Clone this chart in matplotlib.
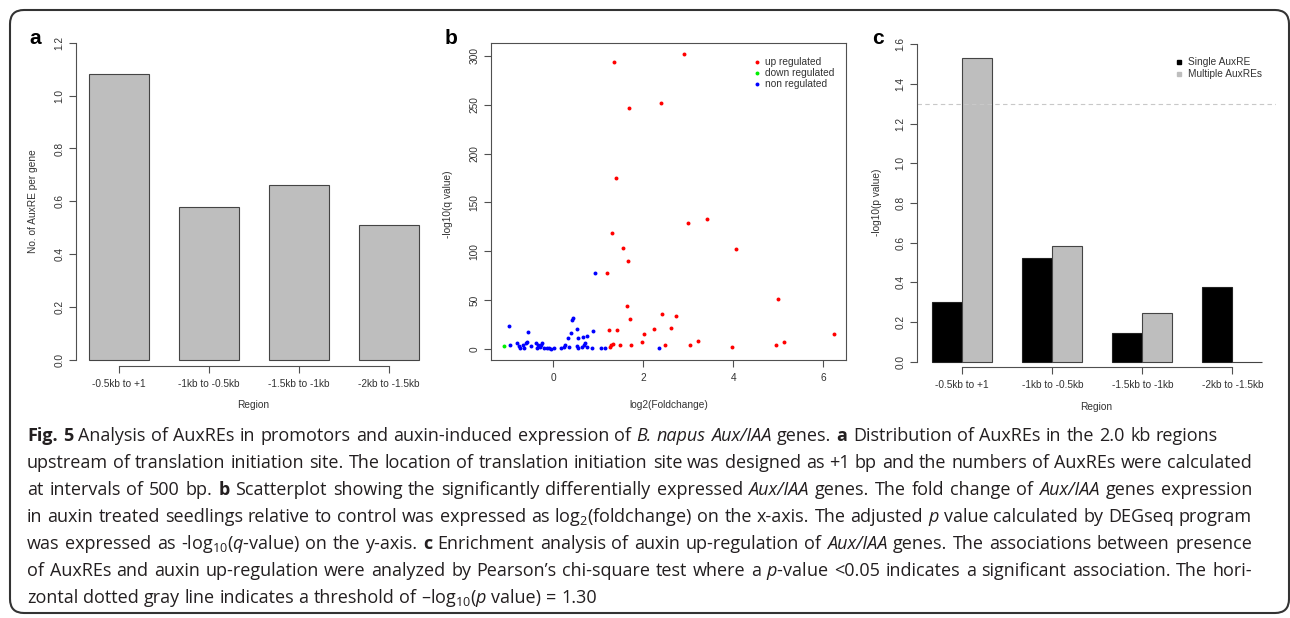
import numpy as np
import matplotlib
matplotlib.use("Agg")
import matplotlib.pyplot as plt
from matplotlib.patches import FancyBboxPatch
from matplotlib.lines import Line2D
from matplotlib.transforms import IdentityTransform

# ---- panel a: AuxRE count per gene
regions = ["-0.5kb to +1", "-1kb to -0.5kb", "-1.5kb to -1kb", "-2kb to -1.5kb"]
auxre_per_gene = [1.08, 0.58, 0.66, 0.51]

# ---- panel b: volcano-like scatter
up_x = [2.90, 1.34, 2.39, 1.68, 1.39, 3.41, 3.00, 1.30, 1.55, 4.07, 1.67, 1.19,
        5.00, 1.63, 2.42, 2.72, 1.71, 2.61, 2.23, 1.41, 1.24, 6.23, 2.01, 1.97,
        3.21, 5.13, 1.32, 1.29, 1.27, 1.49, 1.73, 2.48, 3.03, 3.96, 4.95]
up_y = [301.7, 293.9, 251.5, 247.1, 175.4, 133.4, 129.0, 118.4, 103.8, 102.0, 89.8, 78.2,
        51.5, 44.0, 35.5, 34.1, 30.7, 21.5, 20.1, 19.8, 19.1, 15.7, 15.0, 7.2,
        7.8, 7.2, 5.5, 4.1, 2.4, 3.8, 3.8, 4.4, 3.8, 1.7, 3.8]
down_x = [-1.09]
down_y = [3.1]
non_x = [-0.99, -0.96, -0.80, -0.76, -0.73, -0.67, -0.64, -0.61, -0.59, -0.57, -0.50,
         -0.39, -0.37, -0.34, -0.30, -0.27, -0.24, -0.20, -0.15, -0.10, -0.04, 0.01,
         0.18, 0.23, 0.25, 0.32, 0.35, 0.39, 0.42, 0.44, 0.53, 0.52, 0.54, 0.56,
         0.63, 0.67, 0.69, 0.71, 0.74, 0.76, 0.86, 0.88, 0.93, 1.07, 1.15, 2.36]
non_y = [23.9, 3.8, 5.8, 3.4, 1.4, 4.1, 1.4, 5.8, 7.2, 17.1, 3.4,
         5.8, 1.0, 4.1, 1.7, 4.1, 5.8, 1.4, 1.0, 0.7, 0.3, 0.7,
         1.0, 2.4, 3.8, 11.6, 2.4, 16.0, 29.4, 31.4, 20.5, 3.4, 1.4, 10.9,
         1.7, 12.6, 4.1, 5.8, 2.4, 13.0, 1.4, 18.1, 77.5, 1.0, 1.0, 1.0]

# ---- panel c: enrichment
single_p = [0.30, 0.523, 0.143, 0.375]
multiple_p = [1.53, 0.585, 0.245, 0.0]
threshold = 1.30

# ---- caption (* bold, _ italic)
caption = [
    "*Fig. *5 Analysis of AuxREs in promotors and auxin-induced expression of _B. _napus _Aux/IAA genes. *a Distribution of AuxREs in the 2.0 kb regions",
    "upstream of translation initiation site. The location of translation initiation site was designed as +1 bp and the numbers of AuxREs were calculated",
    "at intervals of 500 bp. *b Scatterplot showing the significantly differentially expressed _Aux/IAA genes. The fold change of _Aux/IAA genes expression",
    "in auxin treated seedlings relative to control was expressed as log$_2$(foldchange) on the x-axis. The adjusted _p value calculated by DEGseq program",
    r"was expressed as -log$_{10}$($\mathit{q}$-value) on the y-axis. *c Enrichment analysis of auxin up-regulation of _Aux/IAA genes. The associations between presence",
    r"of AuxREs and auxin up-regulation were analyzed by Pearson’s chi-square test where a $\mathit{p}$-value <0.05 indicates a significant association. The hori-",
    r"zontal dotted gray line indicates a threshold of –log$_{10}$($\mathit{p}$ value) = 1.30",
]
caption_right = [1218, 1252, 1252, 1252, 1252, 1252, None]

CAP_FONT = 'Open Sans'
plt.rcParams['font.family'] = 'Liberation Sans'
plt.rcParams['mathtext.fontset'] = 'custom'
plt.rcParams['mathtext.rm'] = CAP_FONT
plt.rcParams['mathtext.it'] = CAP_FONT + ':italic'
plt.rcParams['mathtext.bf'] = CAP_FONT + ':bold'
plt.rcParams['mathtext.default'] = 'regular'

W, H = 1290, 618
fig = plt.figure(figsize=(W / 100, H / 100), dpi=100)

TXT = '#333333'
LN = '#505050'
FS = 7.3


def px_axes(l, t, r, b):
    return fig.add_axes([l / W, 1 - b / H, (r - l) / W, (b - t) / H])


def r_style(ax, yticks, ylabels, xticks, xlabels):
    ax.set_yticks(yticks)
    ax.set_yticklabels(ylabels, rotation=90, va='center')
    ax.set_xticks(xticks)
    ax.set_xticklabels(xlabels)
    ax.tick_params(direction='out', length=5, width=0.8, color=LN,
                   labelcolor=TXT, labelsize=FS)
    ax.tick_params(axis='y', pad=3.5)
    ax.tick_params(axis='x', pad=4.3)
    for s in ax.spines.values():
        s.set_color(LN)
        s.set_linewidth(0.8)


# ---------------- panel a
ax_a = px_axes(76, 30, 432, 366)
xa = 1 + 1.5 * np.arange(len(regions))
ax_a.bar(xa, auxre_per_gene, width=1, color='#bebebe', edgecolor='#444444', lw=0.8)
ax_a.set_xlim(0.28, 6.22)
ax_a.set_ylim(-0.0227, 1.248)
yt = np.arange(0, 1.21, 0.2)
r_style(ax_a, yt, [f"{v:.1f}" for v in yt], xa, regions)
ax_a.spines['top'].set_visible(False)
ax_a.spines['right'].set_visible(False)
ax_a.spines['left'].set_bounds(0, 1.2)
ax_a.spines['bottom'].set_bounds(xa[0], xa[-1])
ax_a.set_xlabel("Region", fontsize=FS, color=TXT, va='center')
ax_a.xaxis.set_label_coords(0.497, -0.116)
ax_a.set_ylabel("No. of AuxRE per gene", fontsize=FS, color=TXT, va='center')
ax_a.yaxis.set_label_coords(-0.121, 0.491)

# ---------------- panel b
ax_b = px_axes(491, 42.7, 846, 360)
ax_b.scatter(up_x, up_y, s=8, color='#ff0000', lw=0, label='up regulated')
ax_b.scatter(down_x, down_y, s=8, color='#00ee00', lw=0, label='down regulated')
ax_b.scatter(non_x, non_y, s=8, color='#0000ff', lw=0, label='non regulated')
ax_b.set_xlim(-1.384, 6.504)
ax_b.set_ylim(-11.26, 313.5)
yt = np.arange(0, 301, 50)
r_style(ax_b, yt, [str(v) for v in yt], [0, 2, 4, 6], ['0', '2', '4', '6'])
ax_b.set_xlabel("log2(Foldchange)", fontsize=FS, color=TXT, va='center')
ax_b.xaxis.set_label_coords(0.4995, -0.142)
ax_b.set_ylabel("-log10(q value)", fontsize=FS, color=TXT, va='center')
ax_b.yaxis.set_label_coords(-0.121, 0.49)
leg = ax_b.legend(loc='upper left', bbox_to_anchor=(0.741, 0.9565), frameon=False,
                  fontsize=FS, handlelength=0.6, handletextpad=0.5, labelspacing=0.12,
                  borderpad=0, borderaxespad=0, markerscale=1.0)
for t in leg.get_texts():
    t.set_color(TXT)

# ---------------- panel c
ax_c = px_axes(917.3, 30, 1275.5, 367.3)
xc = 1.5 + 3 * np.arange(len(regions))
ax_c.bar(xc, single_p, width=1, color='black', edgecolor='#222222', lw=0.8)
ax_c.bar(xc + 1, multiple_p, width=1, color='#bebebe', edgecolor='#444444', lw=0.8)
ax_c.axhline(threshold, color='#c8c8c8', lw=0.8, ls=(0, (4, 3)))
ax_c.set_xlim(0.5, 12.44)
ax_c.set_ylim(-0.028, 1.673)
yt = np.arange(0, 1.61, 0.2)
r_style(ax_c, yt, [f"{v:.1f}" for v in yt], xc + 0.5, regions)
ax_c.spines['top'].set_visible(False)
ax_c.spines['right'].set_visible(False)
ax_c.spines['left'].set_bounds(0, 1.6)
ax_c.spines['bottom'].set_bounds(xc[0] + 0.5, xc[-1] + 0.5)
ax_c.set_xlabel("Region", fontsize=FS, color=TXT, va='center')
ax_c.xaxis.set_label_coords(0.5, -0.117)
ax_c.set_ylabel("-log10(p value)", fontsize=FS, color=TXT, va='center')
ax_c.yaxis.set_label_coords(-0.113, 0.4886)
handles = [Line2D([], [], ls='', marker='s', color='black', markersize=3.3),
           Line2D([], [], ls='', marker='s', color='#bebebe', markersize=3.3)]
leg = ax_c.legend(handles, ["Single AuxRE", "Multiple AuxREs"], loc='upper left',
                  bbox_to_anchor=(0.722, 0.919), frameon=False, fontsize=FS,
                  handlelength=0.6, handletextpad=0.6, labelspacing=0.2,
                  borderpad=0, borderaxespad=0)
for t in leg.get_texts():
    t.set_color(TXT)

# panel letters
for letter, (x, y) in zip("abc", [(35, 38), (451.5, 38.5), (878, 38.5)]):
    fig.text(x / W, 1 - y / H, letter, fontsize=15, fontweight='bold',
             ha='center', va='center', color='black')

# outer rounded frame
frame = FancyBboxPatch((10, 5), 1279, 603, boxstyle='round,pad=0,rounding_size=14',
                       transform=IdentityTransform(), fill=False, lw=1.5,
                       edgecolor='#333333')
fig.patches.append(frame)

# ---------------- caption, justified word by word
CAP_COL = '#231f20'
renderer = fig.canvas.get_renderer()


def parse(tok):
    if tok.startswith('*'):
        return tok[1:], dict(fontweight='bold')
    if tok.startswith('_'):
        return tok[1:], dict(fontstyle='italic')
    return tok, {}


def width(s, size, **kw):
    t = fig.text(0, 0, s, fontsize=size, family=CAP_FONT, **kw)
    w = t.get_window_extent(renderer).width
    t.remove()
    return w


ref = 12.0
space = width("n n", ref) - width("nn", ref)
scale = []
for line, right in zip(caption, caption_right):
    if right is None:
        continue
    toks = [parse(t) for t in line.split(' ')]
    nat = sum(width(s, ref, **kw) for s, kw in toks) + space * (len(toks) - 1)
    scale.append((right - 27) / nat)
cap_fs = ref * min(scale) * 0.995
space *= cap_fs / ref

for i, (line, right) in enumerate(zip(caption, caption_right)):
    toks = [parse(t) for t in line.split(' ')]
    ws = [width(s, cap_fs, **kw) for s, kw in toks]
    if right is None:
        gap = space
    else:
        gap = (right - 27 - sum(ws)) / (len(toks) - 1)
    x = 27.0
    y = 441 + 27 * i
    for (s, kw), w in zip(toks, ws):
        fig.text(x / W, 1 - y / H, s, fontsize=cap_fs, family=CAP_FONT,
                 color=CAP_COL, va='baseline', ha='left', **kw)
        x += w + gap

fig.savefig("out.png", dpi=100)
